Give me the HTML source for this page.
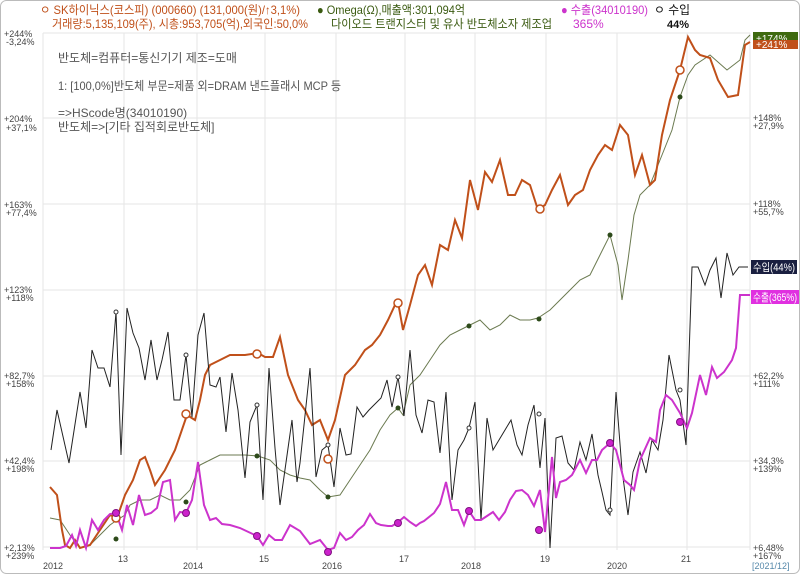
<!DOCTYPE html>
<html><head><meta charset="utf-8"><style>
body{margin:0;background:#fff;}
svg{display:block;font-family:"Liberation Sans","Noto Sans CJK KR",sans-serif;}
</style></head><body>
<svg width="800" height="574" viewBox="0 0 800 574" xmlns="http://www.w3.org/2000/svg">
<rect x="0.5" y="0.5" width="799" height="573" rx="6" fill="#fff" stroke="#bbb"/>
<g stroke="#e6e6e6" stroke-width="1">
<line x1="43" y1="33" x2="750" y2="33"/><line x1="43" y1="118" x2="750" y2="118"/><line x1="43" y1="204" x2="750" y2="204"/><line x1="43" y1="290" x2="750" y2="290"/><line x1="43" y1="376" x2="750" y2="376"/><line x1="43" y1="461" x2="750" y2="461"/><line x1="43" y1="547" x2="750" y2="547"/>
<line x1="43" y1="33" x2="43" y2="550"/><line x1="124" y1="33" x2="124" y2="550"/><line x1="197" y1="33" x2="197" y2="550"/><line x1="265" y1="33" x2="265" y2="550"/><line x1="336" y1="33" x2="336" y2="550"/><line x1="405" y1="33" x2="405" y2="550"/><line x1="475" y1="33" x2="475" y2="550"/><line x1="546" y1="33" x2="546" y2="550"/><line x1="617" y1="33" x2="617" y2="550"/><line x1="687" y1="33" x2="687" y2="550"/><line x1="750" y1="33" x2="750" y2="550"/>
</g>
<g font-size="12">
<text x="40" y="14" fill="#c0501a" textLength="260" lengthAdjust="spacingAndGlyphs">ㅇ SK하이닉스(코스피) (000660) (131,000(원)/↑3,1%)</text>
<text x="52" y="28" fill="#c0501a" textLength="256" lengthAdjust="spacingAndGlyphs">거래량:5,135,109(주), 시총:953,705(억),외국인:50,0%</text>
<text x="317" y="14" fill="#3a5a10" textLength="148" lengthAdjust="spacingAndGlyphs">● Omega(Ω),매출액:301,094억</text>
<text x="331" y="28" fill="#3a5a10" textLength="221" lengthAdjust="spacingAndGlyphs">다이오드 트랜지스터 및 유사 반도체소자 제조업</text>
<text x="561" y="14" fill="#cc33cc" textLength="87" lengthAdjust="spacingAndGlyphs">● 수출(34010190)</text>
<text x="573" y="28" fill="#cc33cc">365%</text>
<text x="654" y="14" fill="#111" textLength="36" lengthAdjust="spacingAndGlyphs">ㅇ 수입</text>
<text x="667" y="28" fill="#111" font-weight="bold" font-size="11">44%</text>
</g>
<g font-size="12" fill="#555">
<text x="58" y="62">반도체=컴퓨터=통신기기 제조=도매</text>
<text x="58" y="90" textLength="283" lengthAdjust="spacingAndGlyphs">1: [100,0%]반도체 부문=제품 외=DRAM 낸드플래시 MCP 등</text>
<text x="58" y="117">=&gt;HScode명(34010190)</text>
<text x="58" y="131">반도체=&gt;[기타 집적회로반도체]</text>
</g>
<g font-size="9" fill="#444">
<text x="4" y="37">+244%</text><text x="6" y="45">-3,24%</text>
<text x="4" y="122">+204%</text><text x="6" y="131">+37,1%</text>
<text x="4" y="208">+163%</text><text x="6" y="216">+77,4%</text>
<text x="4" y="293">+123%</text><text x="6" y="301">+118%</text>
<text x="4" y="379">+82,7%</text><text x="6" y="387">+158%</text>
<text x="4" y="464">+42,4%</text><text x="6" y="472">+198%</text>
<text x="4" y="551">+2,13%</text><text x="6" y="559">+239%</text>
<text x="753" y="121">+148%</text><text x="753" y="129">+27,9%</text>
<text x="753" y="207">+118%</text><text x="753" y="215">+55,7%</text>
<text x="753" y="379">+62,2%</text><text x="753" y="387">+111%</text>
<text x="753" y="464">+34,3%</text><text x="753" y="472">+139%</text>
<text x="753" y="551">+6,48%</text><text x="753" y="559">+167%</text>
<text x="43" y="569">2012</text><text x="118" y="562">13</text><text x="183" y="569">2014</text><text x="259" y="562">15</text><text x="322" y="569">2016</text><text x="399" y="562">17</text><text x="461" y="569">2018</text><text x="540" y="562">19</text><text x="607" y="569">2020</text><text x="681" y="562">21</text>
<text x="752" y="569" fill="#58a">[2021/12]</text>
</g>
<polyline fill="none" stroke="#6b7a50" stroke-width="1" points="50,518 60,520 70,535 80,548 90,545 100,535 110,525 117,520 125,515 130,505 140,500 150,500 160,495 170,500 180,500 190,490 200,465 210,460 220,455 230,455 245,455 258,456 270,460 280,470 290,475 300,478 310,480 320,490 328,497 340,495 350,480 360,465 370,450 380,430 390,415 398,408 403,415 410,385 420,375 430,360 440,345 450,335 460,330 470,325 480,320 490,330 500,325 510,315 520,320 530,320 538,318 550,310 560,300 570,290 580,280 590,275 600,255 610,235 618,265 622,300 628,260 634,215 640,195 650,185 660,160 672,130 680,97 688,75 695,65 710,55 727,70 740,60 745,40 750,35"/>
<polyline fill="none" stroke="#c0501a" stroke-width="2" points="50,487 57,495 62,530 65,545 70,548 75,540 80,548 90,545 100,530 110,515 117,518 125,495 133,480 140,460 145,457 150,470 155,485 165,470 175,450 187,415 195,420 200,400 205,375 210,365 220,360 230,355 245,355 258,353 265,357 273,357 280,337 288,375 298,400 305,410 312,425 320,420 328,440 335,420 345,375 355,365 365,350 372,345 380,335 388,320 395,305 398,302 403,330 410,305 418,275 425,265 432,285 440,245 448,250 455,220 462,238 470,180 478,210 485,172 492,182 500,160 508,195 515,195 522,180 530,185 538,210 545,205 552,190 560,175 568,205 575,195 583,190 590,170 598,155 605,145 612,150 620,125 628,135 635,175 642,155 650,185 655,180 662,135 670,100 675,85 680,70 688,37 695,50 700,55 710,58 718,80 728,97 738,95 745,45 750,42"/>
<polyline fill="none" stroke="#222" stroke-width="1" points="51,450 57,410 69,463 80,392 86,428 92,350 98,368 104,368 110,387 116,312 121,455 127,308 133,333 139,348 145,380 151,340 157,380 162,360 168,332 174,400 180,400 186,355 192,417 198,335 204,313 210,385 216,387 220,377 226,432 232,373 238,410 245,478 250,422 257,405 263,500 269,368 275,448 280,505 292,420 297,482 300,463 310,368 316,477 322,450 328,445 334,487 340,428 346,455 351,454 357,407 363,417 369,410 376,403 381,398 387,380 392,407 398,377 404,416 410,350 416,415 422,433 428,400 434,402 440,453 446,392 452,500 458,450 464,440 469,428 475,402 481,520 487,418 493,450 499,440 505,430 511,420 517,445 522,455 528,425 534,405 540,468 545,418 550,548 556,438 562,436 568,463 574,470 580,442 586,460 592,434 598,475 602,492 606,510 610,515 616,392 622,470 628,515 633,472 640,452 646,473 652,440 658,450 663,420 669,355 676,390 680,400 686,445 692,267 698,267 705,285 710,270 716,258 721,298 727,253 733,275 739,267 748,267"/>
<polyline fill="none" stroke="#cc33cc" stroke-width="2" points="50,548 60,548 66,546 72,535 76,546 80,530 86,548 92,520 98,530 104,520 110,514 116,513 122,530 127,505 133,525 139,495 145,515 151,513 157,508 163,482 170,480 175,520 180,512 186,513 192,500 198,462 204,505 210,520 216,518 222,524 230,525 240,528 257,536 263,545 269,535 275,540 282,540 290,525 300,531 310,544 320,540 328,550 334,548 340,533 346,540 352,537 358,530 364,525 370,514 376,523 381,525 388,526 392,526 397,523 404,517 410,522 416,526 420,523 424,521 434,513 440,504 446,482 452,510 458,510 464,525 469,511 475,520 481,520 487,516 493,512 499,520 505,512 510,500 516,491 522,490 528,495 534,506 540,490 545,532 552,457 556,498 560,482 566,480 572,475 580,460 586,473 592,460 597,460 602,450 610,443 616,450 624,480 630,485 634,490 640,460 650,438 656,442 660,410 666,395 672,400 680,413 687,428 692,413 700,375 706,395 712,367 717,378 724,372 732,360 736,348 740,295 750,295"/>
<g fill="#fff" stroke="#c0501a" stroke-width="1.5">
<circle cx="116" cy="518" r="4"/><circle cx="186" cy="414" r="4"/><circle cx="257" cy="354" r="4"/><circle cx="328" cy="459" r="4"/><circle cx="398" cy="303" r="4"/><circle cx="540" cy="209" r="4"/><circle cx="680" cy="70" r="4"/>
</g>
<g fill="#2d4a1a"><circle cx="116" cy="539" r="2.5"/><circle cx="186" cy="502" r="2.5"/><circle cx="257" cy="456" r="2.5"/><circle cx="328" cy="497" r="2.5"/><circle cx="398" cy="408" r="2.5"/><circle cx="469" cy="326" r="2.5"/><circle cx="539" cy="319" r="2.5"/><circle cx="610" cy="235" r="2.5"/><circle cx="680" cy="97" r="2.5"/></g>
<g fill="#cc22cc" stroke="#801080"><circle cx="116" cy="513" r="3.5"/><circle cx="186" cy="513" r="3.5"/><circle cx="257" cy="536" r="3.5"/><circle cx="328" cy="552" r="3.5"/><circle cx="398" cy="523" r="3.5"/><circle cx="469" cy="511" r="3.5"/><circle cx="539" cy="530" r="3.5"/><circle cx="610" cy="443" r="3.5"/><circle cx="680" cy="422" r="3.5"/></g>
<g fill="#fff" stroke="#333"><circle cx="116" cy="312" r="2"/><circle cx="186" cy="355" r="2"/><circle cx="257" cy="405" r="2"/><circle cx="328" cy="445" r="2"/><circle cx="398" cy="377" r="2"/><circle cx="469" cy="428" r="2"/><circle cx="539" cy="414" r="2"/><circle cx="610" cy="510" r="2"/><circle cx="680" cy="390" r="2"/></g>
<rect x="753" y="32" width="45" height="12" fill="#3f6a10"/><text x="756" y="42" font-size="10" fill="#fff">+174%</text>
<rect x="753" y="40" width="45" height="9" fill="#c0501a"/><text x="756" y="48" font-size="10" fill="#fff">+241%</text>
<rect x="751" y="260" width="46" height="14" fill="#1a1f40"/><text x="753" y="271" font-size="11" fill="#fff" textLength="42" lengthAdjust="spacingAndGlyphs">수입(44%)</text>
<rect x="751" y="290" width="48" height="14" fill="#e030e0"/><text x="753" y="301" font-size="11" fill="#fff" textLength="44" lengthAdjust="spacingAndGlyphs">수출(365%)</text>
</svg>
</body></html>
